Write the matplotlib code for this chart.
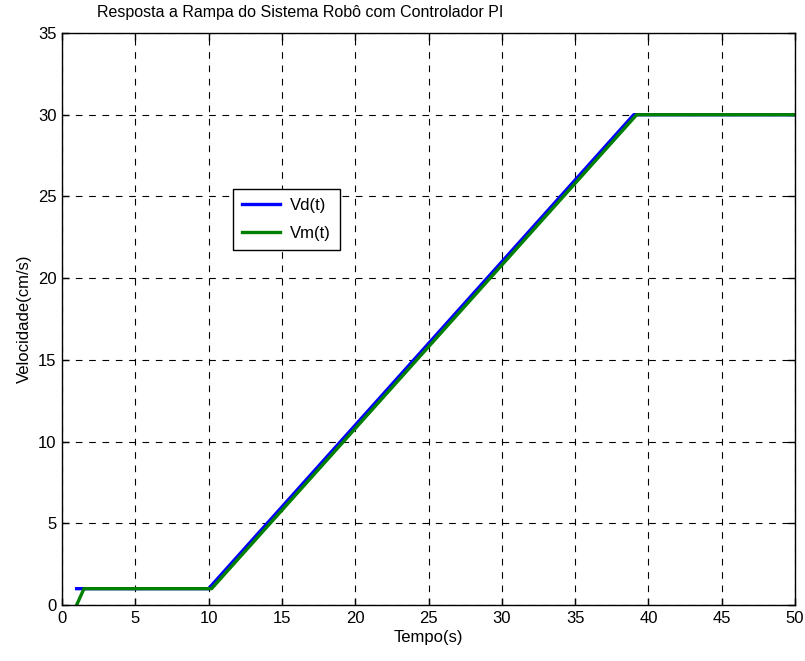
import matplotlib
matplotlib.use('Agg')
import matplotlib.pyplot as plt

plt.rcParams['font.family'] = ['Liberation Sans', 'DejaVu Sans']

# dados
t_vd = [1, 10, 39, 50]
vd = [1, 1, 30, 30]
t_vm = [1, 1.5, 10, 10.2, 39.2, 50]
vm = [0, 1, 1, 1.0, 30, 30]

xticks = list(range(0, 51, 5))
yticks = list(range(0, 36, 5))

fig = plt.figure(figsize=(8.05, 6.61), dpi=100)
ax = fig.add_axes([0.077, 0.0847, 0.9106, 0.8654])

ax.plot(t_vd, vd, color='#0000ff', lw=2.4, label='Vd(t)')
ax.plot(t_vm, vm, color='#008000', lw=2.4, label='Vm(t)')

ax.set_xlim(0, 50)
ax.set_ylim(0, 35)
ax.set_xticks(xticks)
ax.set_yticks(yticks)
ax.tick_params(direction='in', labelsize=12, length=5, width=1, pad=4)
ax.tick_params(top=True, right=True)
ax.grid(True, color='black', linestyle=(0, (6, 6)), linewidth=0.8)
for s in ax.spines.values():
    s.set_linewidth(1)

ax.set_xlabel('Tempo(s)', fontsize=12, labelpad=3)
ax.set_ylabel('Velocidade(cm/s)', fontsize=12, labelpad=4)
fig.text(97 / 805, 1 - 13 / 661, 'Resposta a Rampa do Sistema Robô com Controlador PI',
         fontsize=11.5, ha='left', va='center')

leg = ax.legend(loc='upper left', bbox_to_anchor=(0.233, 0.727), fontsize=12,
                fancybox=False, framealpha=1, edgecolor='black', borderpad=0.55,
                handlelength=2.3, handletextpad=0.6, labelspacing=0.75,
                borderaxespad=0)
leg.get_frame().set_linewidth(1)

fig.savefig('out.png', dpi=100)
